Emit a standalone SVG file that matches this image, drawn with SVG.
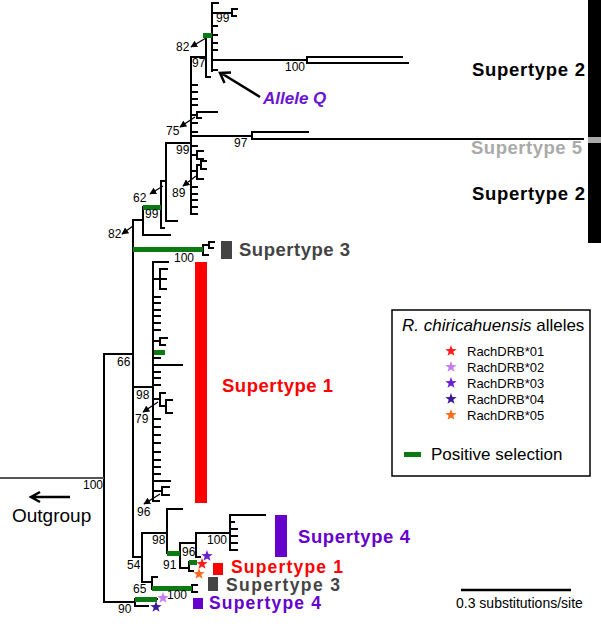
<svg xmlns="http://www.w3.org/2000/svg" width="601" height="640" viewBox="0 0 601 640">
<style>
.br{fill:none;stroke:#000;stroke-width:2;stroke-linecap:square}
.gs{fill:#0b7a12}
.nl{font-family:"Liberation Sans",Arial,sans-serif;font-size:12px;fill:#000}
.st{font-family:"Liberation Sans",Arial,sans-serif;font-size:18.5px;font-weight:bold}
.ss{font-family:"Liberation Sans",Arial,sans-serif;font-size:17.5px;font-weight:bold}
.sa{stroke:#000;stroke-width:1.3;fill:none}
.lg{font-family:"Liberation Sans",Arial,sans-serif;fill:#000}
</style>
<defs>
<marker id="ah" viewBox="0 0 10 10" refX="9" refY="5" markerWidth="7" markerHeight="7" orient="auto" markerUnits="userSpaceOnUse"><path d="M0,0 L10,5 L0,10z" fill="#000"/></marker>
<polygon id="star" points="0,-6 1.41,-1.94 5.71,-1.85 2.28,0.74 3.53,4.85 0,2.4 -3.53,4.85 -2.28,0.74 -5.71,-1.85 -1.41,-1.94"/>
</defs>
<rect width="601" height="640" fill="#fff"/>

<g id="connectors">
<path class="br" d="M212,3V71 M212,3H218 M212,13H232 M232,9V16 M232,9H237 M232,16H236 M212,26H217 M212,35H217 M212,43H217 M212,50H217 M212,60H307 M307,57V63 M307,57H402 M307,63H408 M212,70H217"/>
<path class="br" d="M206,35H212 M206,35V77 M206,77H210 M191,57H206"/>
<path class="br" d="M191,57V214 M191,85H197 M191,92H197 M191,99H197 M191,105H197 M191,115H197 M197,112V118 M197,112H217 M197,118H201 M191,123H197 M191,132H197 M191,136H252 M252,132V139 M252,132H308 M252,139H583 M191,146H197 M191,155H197 M197,151V159 M197,151H203 M197,159H203 M191,171H197 M197,165V179 M197,165H201 M201,161V169 M201,161H206 M201,169H206 M197,179H203 M191,187H197 M191,194H197 M191,200H197 M191,207H197 M191,214H197"/>
<path class="br" d="M166,143H191 M166,143V221 M166,221H177 M161,181H166 M161,181V228 M161,228H164 M143,207H161 M143,207V235 M143,235H170 M133,220H143"/>
<path class="br" d="M133,220V557 M133,249H203 M203,245V255 M203,245H209 M209,242V248 M209,242H214 M209,248H213 M203,255H208"/>
<path class="br" d="M133,387H153 M153,262V501 M153,262H168 M153,279H160 M160,269V289 M160,269H167 M160,279H166 M160,289H166 M153,297H160 M153,303H160 M153,310H160 M153,316H160 M153,323H160 M153,330H160 M153,341H160 M160,338V345 M160,338H167 M160,345H165 M153,358H160 M153,365H182 M153,372H160 M153,378H160 M153,385H160 M153,399H160 M160,393V406 M160,393H165 M160,406H166 M166,400V413 M166,400H172 M166,413H172 M153,419H160 M153,427H160 M153,435H160 M153,443H160 M153,452H160 M153,460H160 M153,467H160 M153,474H160 M153,481H170 M153,491H162 M162,487V495 M162,487H169 M162,495H169 M153,501H159"/>
<path class="br" d="M133,557H142 M142,533V582 M142,533H167 M167,509V553 M167,509H182 M167,553H180 M180,543V568 M180,543H196 M196,533V557 M196,533H230 M230,515V550 M230,515H265 M230,522H234 M230,529H237 M230,536H237 M230,543H237 M230,550H237 M196,557H200 M180,568H189 M189,562V571 M189,562H196 M189,571H193"/>
<path class="br" d="M142,582H152 M152,577V589 M152,577H157 M152,589H192 M192,585V592 M192,585H197 M192,592H197"/>
<path class="br" d="M104,354H133 M104,354V602 M104,602H135 M135,599V606 M135,599H157 M135,606H148"/>
<path d="M0,478H104" stroke="#555" stroke-width="2" fill="none"/>
</g>

<g id="selection">
<rect class="gs" x="203" y="33" width="9" height="5"/>
<rect class="gs" x="143" y="205" width="18" height="5"/>
<rect class="gs" x="133" y="247" width="70" height="5"/>
<rect class="gs" x="154" y="350" width="11" height="5"/>
<rect class="gs" x="167" y="551" width="13" height="5"/>
<rect class="gs" x="189" y="560" width="8" height="5"/>
<rect class="gs" x="152" y="586" width="40" height="5"/>
<rect class="gs" x="135" y="597" width="22" height="5"/>
</g>

<g id="node-labels">
<text class="nl" x="216" y="22">99</text>
<text class="nl" x="176" y="51">82</text>
<line class="sa" x1="206" y1="38" x2="191" y2="47" marker-end="url(#ah)"/>
<text class="nl" x="192" y="67">97</text>
<text class="nl" x="285" y="71">100</text>
<text class="nl" x="166" y="135">75</text>
<line class="sa" x1="195" y1="117" x2="180" y2="127" marker-end="url(#ah)"/>
<text class="nl" x="234" y="147">97</text>
<text class="nl" x="176" y="154">99</text>
<text class="nl" x="172" y="197">89</text>
<line class="sa" x1="196" y1="176" x2="183" y2="186" marker-end="url(#ah)"/>
<text class="nl" x="133" y="202">62</text>
<line class="sa" x1="163" y1="186" x2="150" y2="194" marker-end="url(#ah)"/>
<text class="nl" x="145" y="218">99</text>
<text class="nl" x="108" y="238">82</text>
<line class="sa" x1="133" y1="226" x2="122" y2="234" marker-end="url(#ah)"/>
<text class="nl" x="174" y="262">100</text>
<text class="nl" x="117" y="366">66</text>
<text class="nl" x="136" y="399">98</text>
<text class="nl" x="135" y="423">79</text>
<line class="sa" x1="158" y1="402" x2="143" y2="412" marker-end="url(#ah)"/>
<text class="nl" x="83" y="489">100</text>
<text class="nl" x="137" y="516">96</text>
<line class="sa" x1="160" y1="494" x2="144" y2="504" marker-end="url(#ah)"/>
<text class="nl" x="152" y="544">98</text>
<text class="nl" x="207" y="544">100</text>
<text class="nl" x="182" y="556">96</text>
<text class="nl" x="127" y="569">54</text>
<text class="nl" x="163" y="569">91</text>
<text class="nl" x="133" y="593">65</text>
<text class="nl" x="167" y="599">100</text>
<text class="nl" x="118" y="613">90</text>
</g>

<g id="stars">
<use href="#star" x="207" y="556" fill="#6a1fd0"/>
<use href="#star" x="202" y="564" fill="#ff1a1a"/>
<use href="#star" x="199" y="574" fill="#ff6a1a"/>
<use href="#star" x="163" y="598" fill="#c47ef0"/>
<use href="#star" x="156" y="607" fill="#3c1a9c"/>
</g>

<g id="supertype-2-top">
<rect x="588" y="0" width="13" height="243" fill="#000"/>
<rect x="588" y="137" width="13" height="6" fill="#aaa"/>
<text class="st" x="472" y="76" textLength="113" fill="#000">Supertype 2</text>
</g>
<g id="supertype-5"><text class="st" x="471" y="154" textLength="111" fill="#aaa">Supertype 5</text></g>
<g id="supertype-2-bottom"><text class="st" x="472" y="200" textLength="113" fill="#000">Supertype 2</text></g>
<g id="supertype-3-top">
<rect x="221" y="241" width="11" height="18" fill="#444"/>
<text class="st" x="239" y="256" textLength="111" fill="#444">Supertype 3</text>
</g>
<g id="supertype-1-main">
<rect x="195" y="262" width="12" height="241" fill="#ff0000"/>
<text class="st" x="222" y="392" textLength="111" fill="#ff0000">Supertype 1</text>
</g>
<g id="supertype-4-main">
<rect x="275" y="515" width="12" height="42" fill="#6600cc"/>
<text class="st" x="298" y="543" textLength="112" fill="#6600cc">Supertype 4</text>
</g>
<g id="supertype-1-small">
<rect x="213" y="563" width="10" height="12" fill="#ff0000"/>
<text class="ss" x="231" y="573" textLength="112" fill="#ff0000">Supertype 1</text>
</g>
<g id="supertype-3-small">
<rect x="208" y="577" width="10" height="14" fill="#444"/>
<text class="ss" x="226" y="591" textLength="114" fill="#444">Supertype 3</text>
</g>
<g id="supertype-4-small">
<rect x="193" y="598" width="10" height="11" fill="#6600cc"/>
<text class="ss" x="209" y="609" textLength="112" fill="#6600cc">Supertype 4</text>
</g>

<g id="allele-q">
<path d="M260,97 L221,73 M231,72.5 L220,73 L224.5,83" fill="none" stroke="#000" stroke-width="2.5" stroke-linejoin="miter"/>
<text x="263" y="104" font-family="Liberation Sans,Arial,sans-serif" font-size="17" font-weight="bold" font-style="italic" fill="#6a14d4">Allele Q</text>
</g>

<g id="outgroup">
<path d="M70,497 H31 M40,492 L31,497 L40,502" fill="none" stroke="#000" stroke-width="2.5"/>
<text x="12" y="522" font-family="Liberation Sans,Arial,sans-serif" font-size="19" fill="#000">Outgroup</text>
</g>

<g id="legend">
<rect x="392" y="310" width="198" height="166" fill="none" stroke="#000" stroke-width="1.5"/>
<text class="lg" x="402" y="331" font-size="17"><tspan font-style="italic">R. chiricahuensis</tspan> alleles</text>
<use href="#star" x="451" y="351" fill="#ff1a1a"/>
<use href="#star" x="451" y="367" fill="#c47ef0"/>
<use href="#star" x="451" y="383" fill="#6a1fd0"/>
<use href="#star" x="451" y="399" fill="#3c1a9c"/>
<use href="#star" x="451" y="415" fill="#ff6a1a"/>
<text class="lg" x="467" y="356" font-size="13">RachDRB*01</text>
<text class="lg" x="467" y="372" font-size="13">RachDRB*02</text>
<text class="lg" x="467" y="388" font-size="13">RachDRB*03</text>
<text class="lg" x="467" y="404" font-size="13">RachDRB*04</text>
<text class="lg" x="467" y="420" font-size="13">RachDRB*05</text>
<rect class="gs" x="404" y="452" width="17" height="5"/>
<text class="lg" x="431" y="460" font-size="17">Positive selection</text>
</g>

<g id="scale-bar">
<path d="M461,590H571" stroke="#000" stroke-width="2.5"/>
<text class="lg" x="456" y="608" font-size="14">0.3 substitutions/site</text>
</g>
</svg>
